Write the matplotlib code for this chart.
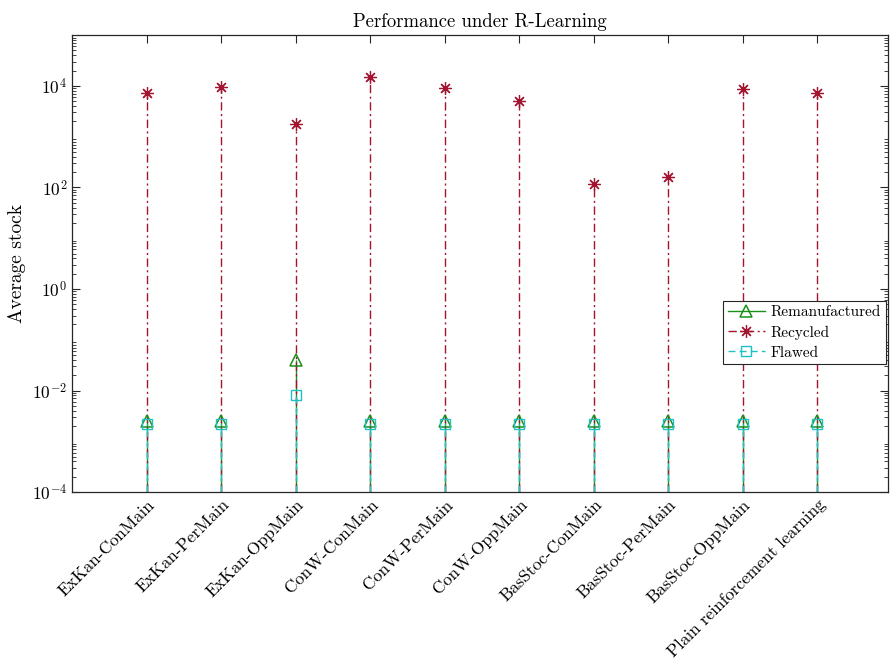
import numpy as np
import matplotlib
matplotlib.use("Agg")
import matplotlib.pyplot as plt
from matplotlib.lines import Line2D
from matplotlib.ticker import LogLocator, NullFormatter

plt.rcParams['font.family'] = 'serif'
plt.rcParams['font.serif'] = ['cmr10', 'DejaVu Serif']
plt.rcParams['mathtext.fontset'] = 'cm'
plt.rcParams['axes.formatter.use_mathtext'] = True
plt.rcParams['axes.unicode_minus'] = False

# strategies compared
strategies = ['ExKan-ConMain', 'ExKan-PerMain', 'ExKan-OppMain',
              'ConW-ConMain', 'ConW-PerMain', 'ConW-OppMain',
              'BasStoc-ConMain', 'BasStoc-PerMain', 'BasStoc-OppMain',
              'Plain reinforcement learning']

# average stock per strategy
remanufactured = [0.0025, 0.0025, 0.040, 0.0025, 0.0025, 0.0025, 0.0025, 0.0025, 0.0025, 0.0025]
recycled = [7400, 9700, 1800, 15200, 9200, 5100, 118, 162, 8800, 7400]
flawed = [0.0022, 0.0022, 0.0082, 0.0022, 0.0022, 0.0022, 0.0022, 0.0022, 0.0022, 0.0022]

green = '#1a8f1a'
red = '#a2142f'
cyan = '#20c0c8'
base = 1e-4

x = np.arange(1, len(strategies) + 1)

fig = plt.figure(figsize=(8.9, 6.64), dpi=100)
ax = fig.add_axes([0.081, 0.259, 0.917, 0.688])
ax.set_yscale('log')

series = [
    ('Remanufactured', remanufactured, green, '-', '^', dict(ms=9, mfc='none', mew=1.1)),
    ('Recycled', recycled, red, (0, (6, 2.5, 1.5, 2.5)), (8, 2, 0), dict(ms=9, mew=0.9)),
    ('Flawed', flawed, cyan, (0, (5, 3)), 's', dict(ms=7, mfc='none', mew=1.0)),
]

handles = []
for name, vals, col, ls, mk, mkw in series:
    ax.vlines(x, base, vals, colors=col, linestyles=[ls], lw=1.0, zorder=2)
    ax.plot(x, vals, linestyle='none', marker=mk, color=col, zorder=3, **mkw)
    handles.append(Line2D([], [], color=col, linestyle=ls, lw=1.0, marker=mk, **mkw))

ax.set_xlim(0, 10.95)
ax.set_ylim(1e-4, 1e5)
ax.set_xticks(x)
ax.set_xticklabels(strategies, rotation=45, ha='right', rotation_mode='anchor', fontsize=12)
ax.set_yticks([1e-4, 1e-2, 1e0, 1e2, 1e4])
ax.yaxis.set_minor_locator(LogLocator(base=10, subs=np.arange(2, 10), numticks=20))
ax.yaxis.set_minor_formatter(NullFormatter())
ax.tick_params(axis='both', which='both', direction='in', top=True, right=True,
               colors='#262626', labelcolor='black')
ax.tick_params(axis='both', which='major', length=6, width=0.8, labelsize=12.5)
ax.tick_params(axis='y', which='minor', length=3, width=0.6)
for sp in ax.spines.values():
    sp.set_color('#262626')
    sp.set_linewidth(0.9)

ax.set_title('Performance under R-Learning', fontsize=13.5, pad=6)
ax.set_ylabel('Average stock', fontsize=14, labelpad=4)

leg = ax.legend(handles, [s[0] for s in series], loc='upper right',
                bbox_to_anchor=(0.997, 0.418), fontsize=11, frameon=True,
                fancybox=False, edgecolor='#262626', framealpha=1,
                handlelength=2.4, handletextpad=0.4, borderpad=0.3,
                labelspacing=0.4, borderaxespad=0)
leg.get_frame().set_linewidth(0.8)

fig.savefig('out.png', dpi=100)
